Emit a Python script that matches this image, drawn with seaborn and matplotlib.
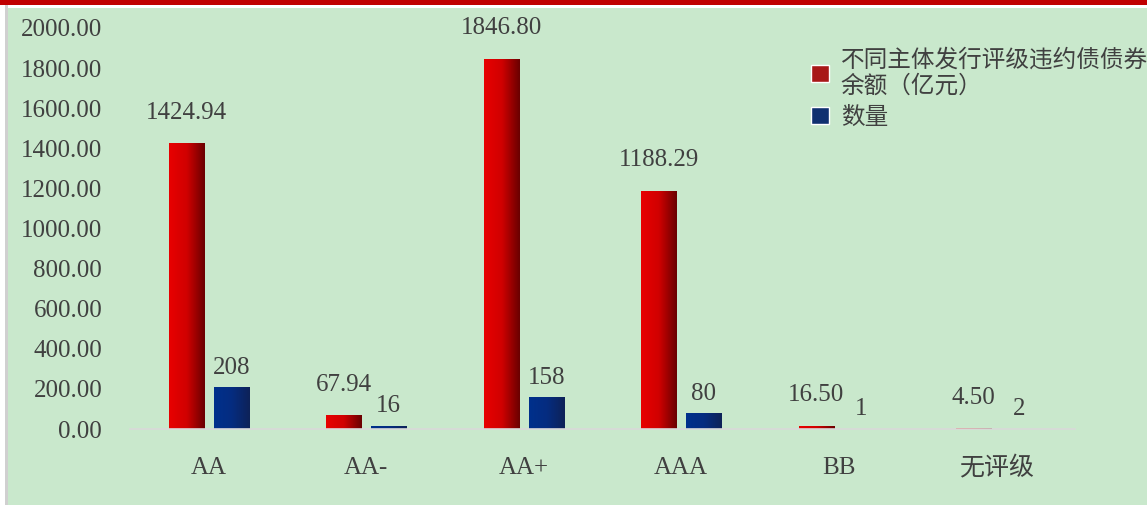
# Chart: default bond balances by issuer rating
import pandas as pd
import matplotlib.pyplot as plt
import numpy as np
import seaborn as sns
from matplotlib.colors import LinearSegmentedColormap
from matplotlib.patches import Rectangle

# data
ratings = ['AA', 'AA-', 'AA+', 'AAA', 'BB', '无评级']
balance = [1424.94, 67.94, 1846.80, 1188.29, 16.50, 4.50]
counts = [208, 16, 158, 80, 1, 2]
series_names = ['不同主体发行评级违约债债券\n余额（亿元）', '数量']
yticks = [0, 200, 400, 600, 800, 1000, 1200, 1400, 1600, 1800, 2000]

df = pd.DataFrame({
    'rating': ratings * 2,
    'value': balance + counts,
    'series': [series_names[0]] * len(ratings) + [series_names[1]] * len(ratings),
})

sns.set_theme(style='white')
plt.rcParams['font.family'] = ['Liberation Serif', 'Noto Sans CJK SC']
text_col = '#404040'
bg_green = '#C9E8CC'

fig = plt.figure(figsize=(11.47, 5.05), dpi=100)
fig.patch.set_facecolor('white')
# green panel, red top rule, grey left edge
fig.patches.append(Rectangle((8 / 1147, 0), 1, 1 - 8 / 505, transform=fig.transFigure,
                             facecolor=bg_green, edgecolor='none', zorder=-10))
fig.patches.append(Rectangle((0, 1 - 5 / 505), 1, 5 / 505, transform=fig.transFigure,
                             facecolor='#C00000', edgecolor='none', zorder=-9))
fig.patches.append(Rectangle((5 / 1147, 0), 3 / 1147, 1 - 5 / 505, transform=fig.transFigure,
                             facecolor='#D0D0D0', edgecolor='none', zorder=-9))

ax = fig.add_axes([130 / 1147, 1 - 429 / 505, 945 / 1147, 401 / 505])
ax.set_facecolor('none')

red = '#C00000'
blue = '#002A80'
sns.barplot(data=df, x='rating', y='value', hue='series', palette=[red, blue],
            width=0.57, gap=0.22, ax=ax, legend=True)

# gradient fill on the bars (bright left, dark right)
red_cmap = LinearSegmentedColormap.from_list('r', ['#E80000', '#D00000', '#6A0000'])
blue_cmap = LinearSegmentedColormap.from_list('b', ['#00308C', '#052C80', '#0E2258'])
grad = np.linspace(0, 1, 64).reshape(1, -1)
for container, cmap in zip(ax.containers, [red_cmap, blue_cmap]):
    for bar in container:
        x0, y0 = bar.get_x(), bar.get_y()
        w, h = bar.get_width(), bar.get_height()
        if h <= 0:
            continue
        im = ax.imshow(grad, cmap=cmap, aspect='auto', extent=(x0, x0 + w, y0, y0 + h),
                       zorder=2, interpolation='bicubic')
        im.set_clip_path(bar)
        bar.set_facecolor('none')
        bar.set_edgecolor('none')

# value labels
ax.bar_label(ax.containers[0], labels=[f'{v:.2f}' for v in balance], padding=14,
             fontsize=18, color=text_col)
ax.bar_label(ax.containers[1], labels=[str(v) for v in counts], padding=6,
             fontsize=18, color=text_col)

ax.set_xlim(-0.5, 5.5)
ax.set_ylim(0, 2000)
ax.set_yticks(yticks)
ax.set_yticklabels([f'{v:.2f}' for v in yticks])
ax.tick_params(axis='y', length=0, pad=20, labelsize=18, labelcolor=text_col)
ax.tick_params(axis='x', length=0, pad=20, labelsize=18, labelcolor=text_col)
ax.set_xlabel('')
ax.set_ylabel('')
for s in ['top', 'right', 'left']:
    ax.spines[s].set_visible(False)
ax.spines['bottom'].set_color('#D9D9D9')
ax.spines['bottom'].set_linewidth(1.2)

handles, labels = ax.get_legend_handles_labels()
ax.legend_.remove()
fig.legend(handles, labels, loc='upper left', bbox_to_anchor=(790 / 1147, 1 - 28 / 505),
           frameon=False, fontsize=17, handlelength=0.75, handleheight=0.75,
           handletextpad=0.5, labelspacing=0.35, labelcolor=text_col)

plt.savefig('out.png', dpi=100)
